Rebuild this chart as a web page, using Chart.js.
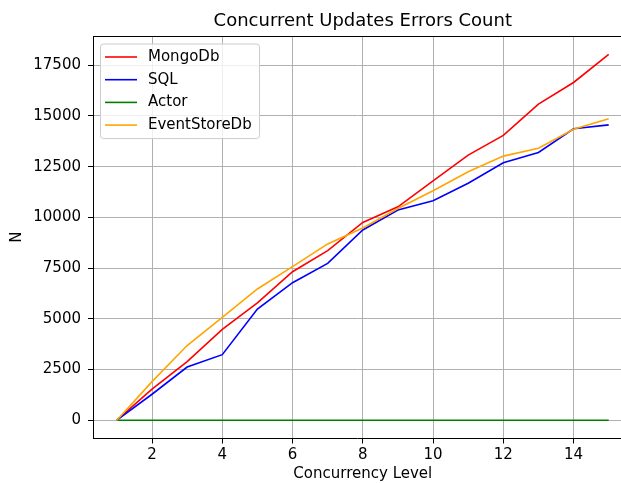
<!DOCTYPE html>
<html>
<head>
<meta charset="utf-8">
<script src="https://cdn.jsdelivr.net/npm/chart.js@4/dist/chart.umd.min.js"></script>
<style>
    html, body { margin: 0; padding: 0; background: #fff; overflow: hidden; }
    #errors-chart { display: block; }
</style>
</head>
<body>
<canvas id="errors-chart" width="621" height="483"></canvas>
<script>
const concurrencyLevels = [1, 2, 3, 4, 5, 6, 7, 8, 9, 10, 11, 12, 13, 14, 15];
const mongoDbErrors = [0, 1530, 2890, 4480, 5790, 7320, 8360, 9750, 10520, 11800, 13070, 14040, 15580, 16650, 18040];
const sqlErrors = [0, 1280, 2620, 3230, 5480, 6780, 7730, 9380, 10360, 10820, 11680, 12690, 13200, 14370, 14560];
const actorErrors = [0, 0, 0, 0, 0, 0, 0, 0, 0, 0, 0, 0, 0, 0, 0];
const eventStoreDbErrors = [0, 1900, 3680, 5070, 6470, 7570, 8690, 9480, 10440, 11310, 12250, 13020, 13410, 14340, 14860];
const xTicks = [2, 4, 6, 8, 10, 12, 14];
const yTicks = [0, 2500, 5000, 7500, 10000, 12500, 15000, 17500];

const FONT = 'DejaVu Sans';

function toPoints(values) {
    return concurrencyLevels.map((x, i) => ({ x, y: values[i] }));
}

// matplotlib-like frame: top spine + title
const frameAndTitle = {
    id: 'frameAndTitle',
    afterDraw(chart) {
        const { ctx, chartArea } = chart;
        ctx.save();
        ctx.strokeStyle = '#000';
        ctx.lineWidth = 1;
        ctx.beginPath();
        ctx.moveTo(chartArea.left, chartArea.top + 0.5);
        ctx.lineTo(chartArea.right, chartArea.top + 0.5);
        ctx.stroke();
        ctx.fillStyle = '#000';
        ctx.font = '18px ' + FONT;
        ctx.textAlign = 'center';
        ctx.textBaseline = 'middle';
        // figure was cropped on the right; the title is centred on the full axes
        const x = chart.scales.x.getPixelForValue(8);
        ctx.fillText('Concurrent Updates Errors Count', x, 21);
        ctx.restore();
    }
};

// legend box drawn inside the plot, upper left
const innerLegend = {
    id: 'innerLegend',
    afterDraw(chart) {
        const { ctx, chartArea } = chart;
        const sets = chart.data.datasets;
        const x0 = chartArea.left + 7, y0 = chartArea.top + 7.5;
        const w = 159, rowH = 22.7;
        const h = 13 + rowH * (sets.length - 1) + 13.5;
        ctx.save();
        ctx.beginPath();
        ctx.roundRect(x0 + 0.5, y0 + 0.5, w, h, 3);
        ctx.fillStyle = 'rgba(255,255,255,0.8)';
        ctx.fill();
        ctx.strokeStyle = '#cccccc';
        ctx.lineWidth = 1;
        ctx.stroke();
        ctx.font = '15px ' + FONT;
        ctx.textBaseline = 'middle';
        sets.forEach((ds, i) => {
            const y = y0 + 13.5 + i * rowH;
            ctx.beginPath();
            ctx.moveTo(x0 + 5, y);
            ctx.lineTo(x0 + 37, y);
            ctx.strokeStyle = ds.borderColor;
            ctx.lineWidth = 1.6;
            ctx.stroke();
            ctx.fillStyle = '#000';
            ctx.fillText(ds.label, x0 + 48, y);
        });
        ctx.restore();
    }
};

function lineSet(label, values, color, order) {
    return {
        label,
        data: toPoints(values),
        borderColor: color,
        backgroundColor: color,
        borderWidth: 1.6,
        pointRadius: 0,
        tension: 0,
        fill: false,
        order
    };
}

const ctx = document.querySelector('#errors-chart').getContext('2d');
new Chart(ctx, {
    type: 'line',
    data: {
        datasets: [
            lineSet('MongoDb', mongoDbErrors, 'red', 4),
            lineSet('SQL', sqlErrors, 'blue', 3),
            lineSet('Actor', actorErrors, 'green', 2),
            lineSet('EventStoreDb', eventStoreDbErrors, 'orange', 1)
        ]
    },
    options: {
        responsive: false,
        animation: false,
        devicePixelRatio: 1,
        layout: {
            autoPadding: false,
            padding: { top: 36, left: 0, right: 0, bottom: 0 }
        },
        scales: {
            x: {
                type: 'linear',
                min: 0.32,
                max: 15.35,
                afterBuildTicks(scale) { scale.ticks = xTicks.map(v => ({ value: v })); },
                afterFit(scale) { scale.height = 44.5; },
                grid: { color: '#b0b0b0', lineWidth: 1, tickColor: '#000', tickLength: 5 },
                border: { color: '#000', width: 1 },
                ticks: { color: '#000', padding: 3, maxRotation: 0, font: { family: FONT, size: 15 }, callback: v => String(v) },
                title: { display: false }
            },
            y: {
                type: 'linear',
                min: -902,
                max: 18942,
                afterBuildTicks(scale) { scale.ticks = yTicks.map(v => ({ value: v })); },
                afterFit(scale) { scale.width = 93; },
                grid: { color: '#b0b0b0', lineWidth: 1, tickColor: '#000', tickLength: 5 },
                border: { color: '#000', width: 1 },
                ticks: { color: '#000', padding: 7, font: { family: FONT, size: 15 }, callback: v => String(v) },
                title: { display: true, text: 'N', color: '#000', padding: { top: 8 }, font: { family: FONT, size: 15 } }
            }
        },
        plugins: {
            legend: { display: false },
            tooltip: { enabled: false }
        }
    },
    plugins: [frameAndTitle, innerLegend, {
        id: 'xTitle',
        afterDraw(chart) {
            // x axis label, centred on the full (uncropped) axes
            const c = chart.ctx;
            c.save();
            c.fillStyle = '#000';
            c.font = '15px ' + FONT;
            c.textAlign = 'center';
            c.textBaseline = 'middle';
            c.fillText('Concurrency Level', chart.scales.x.getPixelForValue(8), 474);
            c.restore();
        }
    }]
});
</script>
</body>
</html>
